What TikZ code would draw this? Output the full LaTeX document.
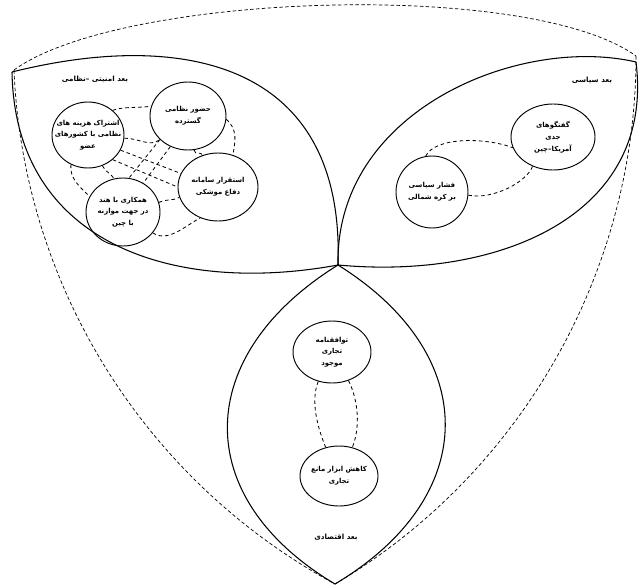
\documentclass[tikz,border=0pt]{standalone}
\usepackage{fontspec}
\newfontfamily\arabicfont[Script=Arabic]{DejaVu Sans}
\TeXXeTstate=1
\usetikzlibrary{shapes.geometric}
\newcommand{\pl}[1]{\beginR #1\endR}
\begin{document}
\begin{tikzpicture}[x=0.03cm,y=-0.03cm,
  bubble/.style={ellipse, draw, line width=0.8pt, inner sep=0pt},
  txt/.style={align=center, inner sep=0pt, font=\arabicfont\bfseries\fontsize{5.9}{10}\selectfont},
  petal/.style={draw, line width=0.9pt},
  frame/.style={draw, dashed, line width=0.6pt, dash pattern=on 3pt off 2pt},
  link/.style={draw, dashed, line width=0.7pt, dash pattern=on 3pt off 2.5pt},
  dimlabel/.style={inner sep=0pt, font=\arabicfont\bfseries\fontsize{6.1}{9}\selectfont}]
\useasboundingbox (0,0) rectangle (639,587);
\fill[white] (0,0) rectangle (639,587);
% corner points
\coordinate (tl) at (14,70);
\coordinate (tr) at (636,56);
\coordinate (bt) at (335,584);
\coordinate (o) at (338,265);
\coordinate (ptl) at (12,72);
\coordinate (ptr) at (636,62);
% outer dashed frame
\draw[frame] (tl) .. controls (120,-7) and (530,-21) .. (tr);
\draw[frame] (tl) .. controls (23,286) and (145,481) .. (bt);
\draw[frame] (tr) .. controls (636,272) and (521,474) .. (bt);
% petals
\draw[petal] (ptl) .. controls (180,30) and (345,60) .. (o);
\draw[petal] (ptl) .. controls (15,245) and (175,295) .. (o);
\draw[petal] (o) .. controls (335,110) and (520,35) .. (ptr);
\draw[petal] (ptr) .. controls (655,215) and (500,280) .. (o);
\draw[petal] (o) .. controls (193,355) and (189,497) .. (bt);
\draw[petal] (o) .. controls (482,355) and (481,497) .. (bt);
% bubbles
\node[bubble, minimum width=2.28cm, minimum height=2.04cm] (c1) at (188,116) {};
\node[bubble, minimum width=2.16cm, minimum height=1.98cm] (c2) at (88,135) {};
\node[bubble, minimum width=2.4cm, minimum height=2.04cm] (c3) at (218,187) {};
\node[bubble, minimum width=2.22cm, minimum height=2.04cm] (c4) at (123,212) {};
\node[bubble, minimum width=2.52cm, minimum height=1.98cm] (c5) at (553,137) {};
\node[bubble, minimum width=2.16cm, minimum height=2.16cm] (c6) at (432,192) {};
\node[bubble, minimum width=2.34cm, minimum height=1.86cm] (c7) at (332,352) {};
\node[bubble, minimum width=2.34cm, minimum height=1.8cm] (c8) at (339,476) {};
% texts
\node[txt] (t1) at (c1) {\pl{حضور نظامی}\\\pl{گسترده}};
\node[txt] (t2) at (c2) {\pl{اشتراک هزینه های}\\\pl{نظامی با کشورهای}\\\pl{عضو}};
\node[txt] (t3) at (c3) {\pl{استقرار سامانه}\\\pl{دفاع موشکی}};
\node[txt] (t4) at (c4) {\pl{همکاری با هند}\\\pl{در جهت موازنه}\\\pl{با چین}};
\node[txt] (t5) at (c5) {\pl{گفتگوهای}\\\pl{جدی}\\\pl{آمریکا–چین}};
\node[txt] (t6) at (c6) {\pl{فشار سیاسی}\\\pl{بر کره شمالی}};
\node[txt] (t7) at (c7) {\pl{توافقنامه}\\\pl{تجاری}\\\pl{موجود}};
\node[txt] (t8) at (c8) {\pl{کاهش ابزار مانع}\\\pl{تجاری}};
% dimension labels
\node[dimlabel] (l1) at (95,79) {\pl{بعد امنیتی –نظامی}};
\node[dimlabel] (l2) at (592,80) {\pl{بعد سیاسی}};
\node[dimlabel] (l3) at (336,537) {\pl{بعد اقتصادی}};
% dashed links, left petal
\draw[link] (c2.45) .. controls +(10,-4) and +(-10,2) .. (c1.165);
\draw[link] (c2.-5) .. controls +(15,0) and +(-10,8) .. (c1.220);
\draw[link] (c1.-5) .. controls +(12,10) and +(2,-12) .. (c3.65);
\draw[link] (c1.-80) .. controls +(2,6) and +(-4,-4) .. (c3.115);
\draw[link] (c2.-120) .. controls +(-2,14) and +(-8,-8) .. (c4.155);
\draw[link] (c2.-65) .. controls +(3,6) and +(-3,-5) .. (c4.105);
\draw[link] (c4.15) .. controls +(10,-4) and +(-8,4) .. (c3.195);
\draw[link] (c4.-35) .. controls +(15,10) and +(-15,8) .. (c3.-120);
\draw[link] (c2.-25) -- (c3.160);
\draw[link] (c2.-45) -- (c3.180);
\draw[link] (c1.-120) -- (c4.55);
\draw[link] (c1.-140) -- (c4.80);
% dashed links, right petal
\draw[link] (c6.100) .. controls +(10,-20) and +(-25,-10) .. (c5.195);
\draw[link] (c6.-5) .. controls +(25,5) and +(-5,15) .. (c5.-125);
% dashed links, bottom petal
\draw[link] (c7.-115) .. controls +(-8,20) and +(-8,-20) .. (c8.115);
\draw[link] (c7.-60) .. controls +(10,20) and +(8,-20) .. (c8.65);
\end{tikzpicture}
\end{document}
